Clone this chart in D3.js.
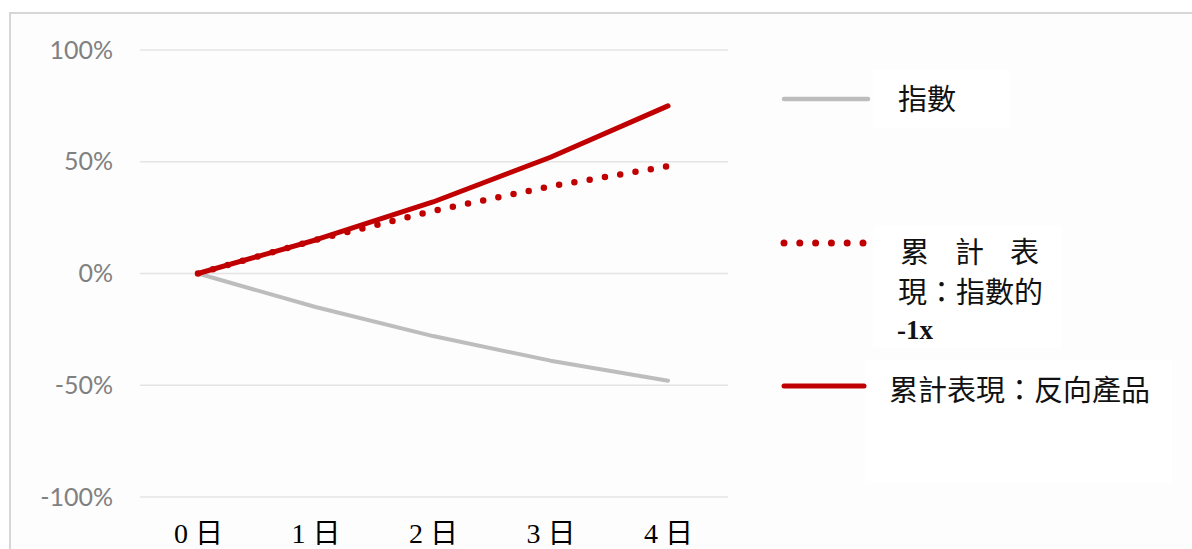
<!DOCTYPE html>
<html>
<head>
<meta charset="utf-8">
<script src="https://cdn.jsdelivr.net/npm/d3@7"></script>
<style>
  html, body { margin: 0; padding: 0; background: #ffffff; }
  svg { display: block; }
</style>
</head>
<body>
<svg id="chart" width="1192" height="549"></svg>
<script>
// ---- data ----
const days = ["0 日", "1 日", "2 日", "3 日", "4 日"];
const indexSeries = [0, -15, -28, -39, -48];          // 指數
const negIndexSeries = [0, 15, 28, 39, 48];           // 累計表現：指數的 -1x
const inverseSeries = [0, 15, 32, 52, 75];            // 累計表現：反向產品
const yTicks = [-100, -50, 0, 50, 100];
const seriesNames = ["指數", "累計表現：指數的 -1x", "累計表現：反向產品"];

const svg = d3.select("#chart");

// background panel & border
svg.append("rect").attr("x", 10).attr("y", 13).attr("width", 1200).attr("height", 560)
  .attr("fill", "#fdfdfd");
svg.append("path").attr("d", "M10,560 L10,13 L1200,13")
  .attr("fill", "none").attr("stroke", "#d6d6d6").attr("stroke-width", 2);

// scales
const x = d3.scalePoint().domain(days).range([198, 668]);
const y = d3.scaleLinear().domain([-100, 100]).range([497, 50]);

// gridlines
svg.append("g").selectAll("line").data(yTicks).join("line")
  .attr("x1", 140).attr("x2", 728)
  .attr("y1", d => y(d)).attr("y2", d => y(d))
  .attr("stroke", "#e4e4e4").attr("stroke-width", 1.5);

// y axis
const yAxis = svg.append("g").attr("transform", "translate(140,0)")
  .call(d3.axisLeft(y).tickValues(yTicks).tickSize(0).tickPadding(27).tickFormat(d => d + "%"));
yAxis.select(".domain").remove();
yAxis.selectAll("text")
  .attr("fill", "#808080")
  .style("font-family", "Lato, 'Open Sans', sans-serif")
  .style("font-size", "25px");

// x axis
const xAxis = svg.append("g").attr("transform", "translate(0,497)")
  .call(d3.axisBottom(x).tickSize(0).tickPadding(26));
xAxis.select(".domain").remove();
xAxis.selectAll("text")
  .attr("fill", "#000")
  .style("font-family", "'Liberation Serif', 'Noto Sans CJK TC', serif")
  .style("font-size", "28px");

// lines
const line = d3.line().x((d, i) => x(days[i])).y(d => y(d));

svg.append("path").datum(indexSeries)
  .attr("d", line).attr("fill", "none")
  .attr("stroke", "#bdbdbd").attr("stroke-width", 4).attr("stroke-linecap", "round").attr("stroke-linejoin", "round");

svg.append("path").datum(negIndexSeries)
  .attr("d", line).attr("fill", "none")
  .attr("stroke", "#c00000").attr("stroke-width", 6.5)
  .attr("stroke-dasharray", "0 15.5").attr("stroke-linecap", "round");

svg.append("path").datum(inverseSeries)
  .attr("d", line).attr("fill", "none")
  .attr("stroke", "#c00000").attr("stroke-width", 5).attr("stroke-linecap", "round").attr("stroke-linejoin", "round");

// legend boxes
const boxes = [[873, 70, 137, 58], [873, 225, 189, 123], [865, 360, 307, 123]];
svg.append("g").selectAll("rect").data(boxes).join("rect")
  .attr("x", d => d[0]).attr("y", d => d[1]).attr("width", d => d[2]).attr("height", d => d[3])
  .attr("fill", "#ffffff");

const cjk = "'Noto Sans CJK TC', 'Noto Sans CJK SC', sans-serif";
const lg = svg.append("g");

// legend 1
lg.append("line").attr("x1", 784).attr("x2", 868).attr("y1", 99).attr("y2", 99)
  .attr("stroke", "#bdbdbd").attr("stroke-width", 4.5).attr("stroke-linecap", "round");
lg.append("text").attr("x", 898).attr("y", 100).attr("dy", "0.36em")
  .style("font-family", cjk).style("font-size", "29px").attr("fill", "#111")
  .text(seriesNames[0]);

// legend 2
lg.append("line").attr("x1", 784).attr("x2", 868).attr("y1", 243).attr("y2", 243)
  .attr("stroke", "#c00000").attr("stroke-width", 7)
  .attr("stroke-dasharray", "0 15.8").attr("stroke-linecap", "round");
const t2 = lg.append("g").style("font-family", cjk).style("font-size", "29px").attr("fill", "#111");
["累", "計", "表"].forEach((c, i) => {
  t2.append("text").attr("x", 900 + i * 55).attr("y", 253).attr("dy", "0.36em").text(c);
});
t2.append("text").attr("x", 898).attr("y", 293).attr("dy", "0.36em").text("現：指數的");
lg.append("text").attr("x", 897).attr("y", 339)
  .style("font-family", "'Liberation Serif', serif").style("font-weight", "bold").style("font-size", "27px")
  .attr("fill", "#111").text("-1x");

// legend 3
lg.append("line").attr("x1", 784).attr("x2", 864).attr("y1", 386).attr("y2", 386)
  .attr("stroke", "#c00000").attr("stroke-width", 5).attr("stroke-linecap", "round");
lg.append("text").attr("x", 889).attr("y", 391).attr("dy", "0.36em")
  .style("font-family", cjk).style("font-size", "29px").attr("fill", "#111")
  .text(seriesNames[2]);
</script>
</body>
</html>
